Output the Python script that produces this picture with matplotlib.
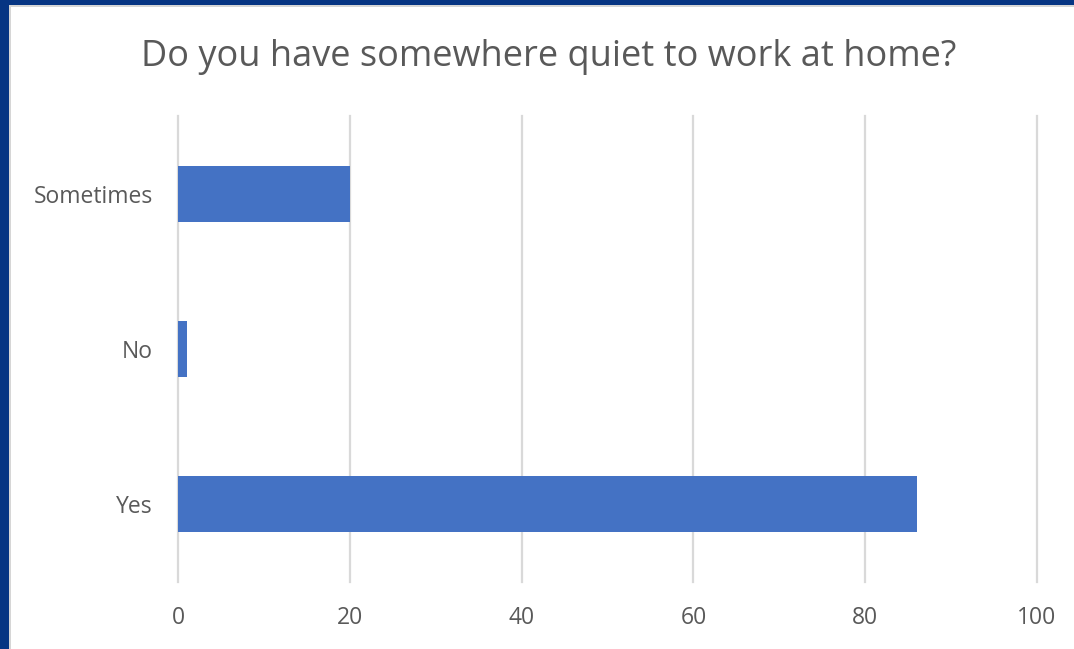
import matplotlib.pyplot as plt
from matplotlib.patches import Rectangle

categories = ['Yes', 'No', 'Sometimes']
counts = [86, 1, 20]
x_ticks = [0, 20, 40, 60, 80, 100]

bar_color = '#4472C4'
grid_color = '#d9d9d9'
text_color = '#595959'
frame_color = '#063583'

plt.rcParams['font.family'] = ['Open Sans', 'DejaVu Sans']

fig = plt.figure(figsize=(10.74, 6.49), dpi=100)
fig.patch.set_facecolor('white')

# dark blue frame around the chart (left and top), with a thin grey inner edge
fig.patches.append(Rectangle((0, 0), 9 / 1074, 1, transform=fig.transFigure,
                             facecolor=frame_color, edgecolor='none'))
fig.patches.append(Rectangle((0, 1 - 5 / 649), 1, 5 / 649, transform=fig.transFigure,
                             facecolor=frame_color, edgecolor='none'))
fig.patches.append(Rectangle((9 / 1074, 0), 2 / 1074, 1 - 5 / 649, transform=fig.transFigure,
                             facecolor='#d6d6d6', edgecolor='none'))
fig.patches.append(Rectangle((9 / 1074, 1 - 7 / 649), 1, 2 / 649, transform=fig.transFigure,
                             facecolor='#d6d6d6', edgecolor='none'))

ax = fig.add_axes([178 / 1074, 1 - 582 / 649, (1037 - 178) / 1074, (582 - 116) / 649])
ax.barh(range(len(categories)), counts, height=0.36, color=bar_color, zorder=3)

ax.set_xlim(0, 100)
ax.set_ylim(-0.5, 2.5)
ax.set_xticks(x_ticks)
ax.set_yticks(range(len(categories)))
ax.set_yticklabels(categories)
ax.xaxis.grid(True, color=grid_color, linewidth=1.6, zorder=0)
for line in ax.get_xgridlines():
    line.set_clip_on(False)
ax.tick_params(axis='both', length=0, labelsize=16.5, colors=text_color)
ax.tick_params(axis='x', pad=17)
ax.tick_params(axis='y', pad=18)
for side in ['top', 'right', 'bottom', 'left']:
    ax.spines[side].set_visible(False)

fig.text(0.511, 1 - 57 / 649, 'Do you have somewhere quiet to work at home?',
         ha='center', va='center', fontsize=26, color=text_color)

fig.savefig('out.png', dpi=100)
